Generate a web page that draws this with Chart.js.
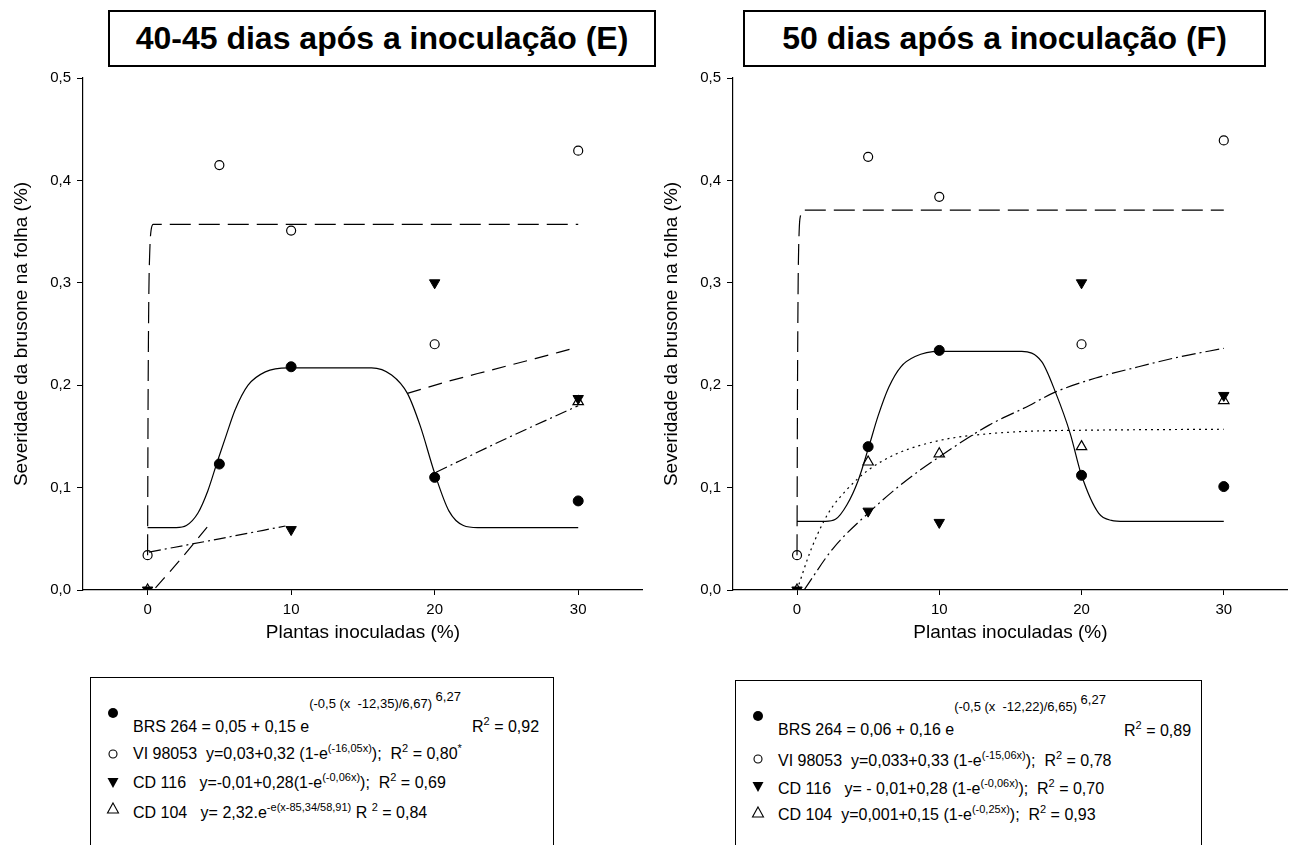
<!DOCTYPE html>
<html>
<head>
<meta charset="utf-8">
<script src="https://cdn.jsdelivr.net/npm/chart.js@4.4.0/dist/chart.umd.min.js"></script>
<style>
  body { margin: 0; background: #fff; width: 1304px; height: 845px; position: relative; overflow: hidden;
         font-family: "Liberation Sans", Arial, sans-serif; color: #000; }
  canvas { position: absolute; top: 0; }
  .title { position: absolute; top: 10px; height: 53px; border: 2px solid #000; background: #fff;
           font-weight: bold; font-size: 32px; line-height: 53px; text-align: center; z-index: 2; }
  .legend { position: absolute; border: 1px solid #000; background: #fff; height: 200px; }
  .t { position: absolute; white-space: pre; font-size: 16px; line-height: 18px; }
  .up1 { position: relative; top: -24px; font-size: 13px; }
  .up2 { position: relative; top: -31px; font-size: 13px; }
  .s { font-size: 11px; vertical-align: 7px; line-height: 0; }
  .m { position: absolute; width: 14px; height: 14px; }
</style>
</head>
<body>
<canvas id="chartE" width="650" height="655" style="left:0"></canvas>
<canvas id="chartF" width="645" height="655" style="left:650px"></canvas>

<div class="title" style="left:108px;width:544px">40-45 dias após a inoculação (E)</div>
<div class="title" style="left:743px;width:519px">50 dias após a inoculação (F)</div>

<!-- legend E -->
<div class="legend" style="left:90px;top:677px;width:462px"></div>
<svg class="m" style="left:106px;top:706px" viewBox="0 0 14 14"><circle cx="7" cy="7" r="5" fill="#000"/></svg>
<div class="t" style="left:133px;top:718px">BRS 264 = 0,05 + 0,15 e<span class="up1">(-0,5 (x  -12,35)/6,67) </span><span class="up2">6,27</span></div>
<div class="t" style="left:472px;top:718px">R<span class="s">2</span> = 0,92</div>
<svg class="m" style="left:106px;top:747px" viewBox="0 0 14 14"><circle cx="7" cy="7" r="4" fill="none" stroke="#000" stroke-width="1.1"/></svg>
<div class="t" style="left:133px;top:745px">VI 98053  y=0,03+0,32 (1-e<span class="s">(-16,05x)</span>);  R<span class="s">2</span> = 0,80<span class="s">*</span></div>
<svg class="m" style="left:106px;top:776px" viewBox="0 0 14 14"><polygon points="1.5,2 12.5,2 7,12" fill="#000"/></svg>
<div class="t" style="left:133px;top:774px">CD 116   y=-0,01+0,28(1-e<span class="s">(-0,06x)</span>);  R<span class="s">2</span> = 0,69</div>
<svg class="m" style="left:106px;top:801px" viewBox="0 0 14 14"><polygon points="7,2 12.5,12 1.5,12" fill="none" stroke="#000" stroke-width="1.1"/></svg>
<div class="t" style="left:133px;top:804px">CD 104   y= 2,32.e<span class="s">-e(x-85,34/58,91)</span> R <span class="s">2</span> = 0,84</div>

<!-- legend F -->
<div class="legend" style="left:735px;top:680px;width:465px"></div>
<svg class="m" style="left:751px;top:709px" viewBox="0 0 14 14"><circle cx="7" cy="7" r="5" fill="#000"/></svg>
<div class="t" style="left:778px;top:721px">BRS 264 = 0,06 + 0,16 e<span class="up1">(-0,5 (x  -12,22)/6,65) </span><span class="up2">6,27</span></div>
<div class="t" style="left:1124px;top:722px">R<span class="s">2</span> = 0,89</div>
<svg class="m" style="left:751px;top:752px" viewBox="0 0 14 14"><circle cx="7" cy="7" r="4" fill="none" stroke="#000" stroke-width="1.1"/></svg>
<div class="t" style="left:778px;top:752px">VI 98053  y=0,033+0,33 (1-e<span class="s">(-15,06x)</span>);  R<span class="s">2</span> = 0,78</div>
<svg class="m" style="left:751px;top:780px" viewBox="0 0 14 14"><polygon points="1.5,2 12.5,2 7,12" fill="#000"/></svg>
<div class="t" style="left:778px;top:780px">CD 116   y= - 0,01+0,28 (1-e<span class="s">(-0,06x)</span>);  R<span class="s">2</span> = 0,70</div>
<svg class="m" style="left:751px;top:805px" viewBox="0 0 14 14"><polygon points="7,2 12.5,12 1.5,12" fill="none" stroke="#000" stroke-width="1.1"/></svg>
<div class="t" style="left:778px;top:806px">CD 104  y=0,001+0,15 (1-e<span class="s">(-0,25x)</span>);  R<span class="s">2</span> = 0,93</div>

<script>
// ---- Axes ----
const xTicks = [0, 10, 20, 30];
const xMin = -4.5, xMax = 34.5;
const yMin = 0, yMax = 0.5;

// ---- Panel E: 40-45 dias, observed points ----
const brsX_E = [5, 10, 20, 30];
const brsY_E = [0.123, 0.218, 0.110, 0.087];
const viX_E = [0, 5, 10, 20, 30];
const viY_E = [0.034, 0.415, 0.351, 0.240, 0.429];
const cd116X_E = [0, 10, 20, 30];
const cd116Y_E = [0, 0.059, 0.300, 0.187];
const cd104X_E = [0, 30];
const cd104Y_E = [0, 0.184];

// ---- Panel E: fitted curves (null = gap) ----
const brsFitX_E = [0, 2, 2.7, 3.5, 4.2, 4.85, 5.5, 6.1, 7, 8.2, 9.8, 15.6, 17, 18.1, 19, 20, 21, 22, 23, 30];
const brsFitY_E = [0.061, 0.061, 0.063, 0.075, 0.097, 0.125, 0.152, 0.176, 0.2, 0.213, 0.217, 0.217, 0.21, 0.192, 0.16, 0.114, 0.077, 0.063, 0.061, 0.061];
const viFitX_E = [0, 0.03, 0.08, 0.15, 0.25, 0.4, 30];
const viFitY_E = [0.034, 0.17, 0.28, 0.33, 0.352, 0.357, 0.357];
const cd116FitX_E = [0.55, 2.3, 4.15, 10, 18.1, 21, 24, 27, 29.4];
const cd116FitY_E = [0.002, 0.03, 0.0615, null, 0.192, 0.204, 0.215, 0.226, 0.235];
const cd104FitX_E = [0.1, 5, 9.6, 15, 20.1, 25, 30];
const cd104FitY_E = [0.037, 0.05, 0.0625, null, 0.115, 0.148, 0.18];

// ---- Panel F: 50 dias, observed points ----
const brsX_F = [5, 10, 20, 30];
const brsY_F = [0.140, 0.234, 0.112, 0.101];
const viX_F = [0, 5, 10, 20, 30];
const viY_F = [0.034, 0.423, 0.384, 0.240, 0.439];
const cd116X_F = [0, 5, 10, 20, 30];
const cd116Y_F = [0, 0.077, 0.066, 0.300, 0.190];
const cd104X_F = [0, 5, 10, 20, 30];
const cd104Y_F = [0, 0.125, 0.133, 0.140, 0.185];

// ---- Panel F: fitted curves ----
const brsFitX_F = [0, 2, 2.7, 3.5, 4.3, 5.05, 5.7, 6.45, 7.3, 8.3, 10, 15.8, 17.2, 18.2, 19.2, 20, 21.2, 22.1, 23, 30];
const brsFitY_F = [0.067, 0.067, 0.069, 0.083, 0.107, 0.14, 0.17, 0.198, 0.218, 0.228, 0.233, 0.233, 0.223, 0.192, 0.153, 0.112, 0.075, 0.068, 0.067, 0.067];
const viFitX_F = [0, 0.03, 0.08, 0.15, 0.25, 0.4, 30];
const viFitY_F = [0.034, 0.18, 0.3, 0.35, 0.366, 0.371, 0.371];
const cd116FitX_F = [0.5, 2.5, 5, 7.5, 10, 13.5, 16.3, 18.1, 21, 24, 27, 30];
const cd116FitY_F = [0, 0.04, 0.075, 0.105, 0.13, 0.161, 0.18, 0.193, 0.207, 0.218, 0.228, 0.236];
const cd104FitX_F = [0, 1, 2.2, 3.5, 5, 7, 10, 13, 16.3, 20, 30];
const cd104FitY_F = [0, 0.04, 0.075, 0.098, 0.117, 0.133, 0.146, 0.152, 0.155, 0.156, 0.157];

// ---- Utils ----
const pts = (xs, ys) => xs.map((x, i) => ({ x, y: ys[i] }));
const fmtComma = (v) => Number(v).toFixed(1).replace('.', ',');
const FONT = 'Liberation Sans';

function markerSet(kind, data) {
  const base = { data, showLine: false, borderColor: '#000', order: 0 };
  if (kind === 'brs') return { ...base, pointStyle: 'circle', pointRadius: 5, backgroundColor: '#000', borderWidth: 1 };
  if (kind === 'vi') return { ...base, pointStyle: 'circle', pointRadius: 4.5, backgroundColor: 'rgba(0,0,0,0)', borderWidth: 1.2 };
  if (kind === 'cd116') return { ...base, pointStyle: 'triangle', rotation: 180, pointRadius: 6, backgroundColor: '#000', borderWidth: 1 };
  return { ...base, pointStyle: 'triangle', pointRadius: 6, backgroundColor: 'rgba(0,0,0,0)', borderWidth: 1.2 };
}

function curveSet(data, dash) {
  return {
    data, showLine: true, pointRadius: 0, borderColor: '#000', borderWidth: 1.2,
    borderDash: dash, cubicInterpolationMode: 'monotone', spanGaps: false, fill: false, order: 1
  };
}

function buildChart(id, datasets) {
  const ctx = document.getElementById(id).getContext('2d');
  return new Chart(ctx, {
    type: 'scatter',
    data: { datasets },
    options: {
      responsive: false,
      animation: false,
      layout: { padding: { top: 78, right: id === 'chartE' ? 3 : 5, left: 0, bottom: 0 } },
      plugins: { legend: { display: false }, tooltip: { enabled: false } },
      scales: {
        x: {
          type: 'linear', min: xMin, max: xMax,
          afterBuildTicks: (s) => { s.ticks = xTicks.map(v => ({ value: v })); },
          afterFit: (s) => { s.height = 65; },
          grid: { drawOnChartArea: false, drawTicks: true, tickLength: 5, color: '#000' },
          border: { display: true, color: '#000', width: 1.2 },
          ticks: { color: '#000', font: { size: 15, family: FONT }, padding: 6 },
          title: { display: true, text: 'Plantas inoculadas (%)', color: '#000',
                   font: { size: 19, family: FONT }, padding: { top: 0, bottom: 11 } }
        },
        y: {
          type: 'linear', min: yMin, max: yMax,
          afterFit: (s) => { s.width = 83; },
          grid: { drawOnChartArea: false, drawTicks: true, tickLength: 6, color: '#000' },
          border: { display: true, color: '#000', width: 1.2 },
          ticks: { stepSize: 0.1, color: '#000', font: { size: 15, family: FONT }, padding: 6,
                   callback: (v) => fmtComma(v) },
          title: { display: true, text: 'Severidade da brusone na folha (%)', color: '#000',
                   font: { size: 19, family: FONT }, padding: { top: 10, bottom: 0 } }
        }
      }
    }
  });
}

buildChart('chartE', [
  markerSet('brs', pts(brsX_E, brsY_E)),
  markerSet('vi', pts(viX_E, viY_E)),
  markerSet('cd116', pts(cd116X_E, cd116Y_E)),
  markerSet('cd104', pts(cd104X_E, cd104Y_E)),
  curveSet(pts(brsFitX_E, brsFitY_E), []),
  curveSet(pts(viFitX_E, viFitY_E), [21, 8]),
  curveSet(pts(cd116FitX_E, cd116FitY_E), [14, 8]),
  curveSet(pts(cd104FitX_E, cd104FitY_E), [12, 4, 2, 4])
]);

buildChart('chartF', [
  markerSet('brs', pts(brsX_F, brsY_F)),
  markerSet('vi', pts(viX_F, viY_F)),
  markerSet('cd116', pts(cd116X_F, cd116Y_F)),
  markerSet('cd104', pts(cd104X_F, cd104Y_F)),
  curveSet(pts(brsFitX_F, brsFitY_F), []),
  curveSet(pts(viFitX_F, viFitY_F), [21, 8]),
  curveSet(pts(cd116FitX_F, cd116FitY_F), [14, 4, 2, 4]),
  curveSet(pts(cd104FitX_F, cd104FitY_F), [2, 4])
]);
</script>
</body>
</html>
